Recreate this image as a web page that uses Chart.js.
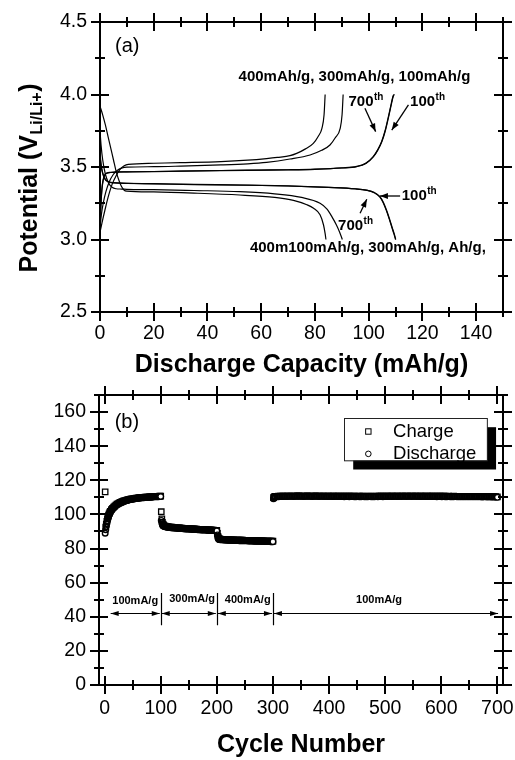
<!DOCTYPE html>
<html><head><meta charset="utf-8">
<script src="https://cdn.jsdelivr.net/npm/chart.js@4.4.1/dist/chart.umd.min.js"></script>
<style>
html,body{margin:0;padding:0;background:#fff;}
#wrap{position:relative;width:515px;height:760px;background:#fff;}
canvas{position:absolute;left:0;}
#ca{top:0}
#cb{top:380px}
</style></head><body>
<div id="wrap"><canvas id="ca" width="515" height="380"></canvas><canvas id="cb" width="515" height="380"></canvas></div>
<script>
// ================= Panel (a): voltage profiles =================
// charge curves (capacity mAh/g, potential V)
const capC400 = [0, 0.8, 1.8, 3, 4.5, 6, 7.5, 9, 10.5, 20, 30, 45, 55, 62, 66, 70.7, 73.2, 76.5, 79.4, 81.2, 82.6, 83.4, 83.8];
const potC400 = [3.05, 3.12, 3.2, 3.29, 3.38, 3.44, 3.485, 3.508, 3.518, 3.526, 3.53, 3.537, 3.547, 3.558, 3.566, 3.578, 3.594, 3.625, 3.663, 3.71, 3.767, 3.86, 4.0];
const capC300 = [0, 0.5, 1.2, 2.2, 3.5, 5, 6.5, 8, 10, 20, 30, 45, 55, 62, 70.7, 78.2, 82.5, 85.6, 87.5, 89.4, 90.1, 90.5];
const potC300 = [3.08, 3.17, 3.25, 3.33, 3.40, 3.45, 3.478, 3.492, 3.499, 3.502, 3.506, 3.514, 3.522, 3.532, 3.555, 3.583, 3.615, 3.652, 3.70, 3.767, 3.86, 4.0];
const capC100 = [0, 0.3, 0.7, 1.2, 1.8, 2.6, 4, 6, 10, 20, 30, 45, 60, 70, 80, 90, 95.6, 99, 101.8, 103.5, 104.9, 106.2, 107.3, 108.3, 109.2, 109.6];
const potC100 = [3.06, 3.22, 3.34, 3.41, 3.445, 3.458, 3.462, 3.465, 3.466, 3.468, 3.471, 3.475, 3.478, 3.48, 3.484, 3.493, 3.503, 3.525, 3.571, 3.62, 3.674, 3.75, 3.836, 3.92, 3.99, 4.0];
const capC700 = [0, 0.3, 0.7, 1.2, 1.8, 2.6, 4, 6, 10, 20, 30, 45, 60, 70, 80, 90, 95.5, 98.9, 101.7, 103.4, 104.8, 106.1, 107.2, 108.2, 109.1, 109.5];
const potC700 = [3.07, 3.23, 3.35, 3.415, 3.447, 3.459, 3.463, 3.466, 3.467, 3.469, 3.472, 3.476, 3.479, 3.481, 3.485, 3.494, 3.504, 3.526, 3.572, 3.62, 3.674, 3.75, 3.836, 3.92, 3.99, 4.0];
// discharge curves
const capD400 = [0, 1, 2, 3, 4, 5, 6, 7, 8, 9, 10, 20, 35, 52, 65, 72, 77, 79.5, 81.9, 83.2, 83.8, 84.1];
const potD400 = [3.92, 3.86, 3.79, 3.71, 3.63, 3.55, 3.47, 3.41, 3.365, 3.34, 3.334, 3.328, 3.32, 3.307, 3.29, 3.27, 3.24, 3.215, 3.17, 3.10, 3.04, 3.0];
const capD300 = [0, 0.4, 1, 2, 3.2, 4.5, 6, 8, 10, 20, 35, 52, 65, 75, 81.9, 84.5, 86.3, 88, 89.2, 90.2];
const potD300 = [3.75, 3.65, 3.55, 3.45, 3.39, 3.36, 3.35, 3.348, 3.346, 3.344, 3.338, 3.33, 3.315, 3.29, 3.25, 3.21, 3.158, 3.10, 3.05, 3.0];
const capD100 = [0, 0.4, 1, 1.8, 3, 5, 10, 20, 35, 52, 70, 85, 95, 99.3, 102, 104.2, 105.5, 106.7, 107.8, 108.8, 109.5, 110.1];
const potD100 = [3.60, 3.52, 3.46, 3.42, 3.40, 3.392, 3.388, 3.385, 3.38, 3.376, 3.37, 3.36, 3.35, 3.34, 3.325, 3.295, 3.255, 3.20, 3.14, 3.08, 3.04, 3.0];
const capD700 = [0, 0.4, 1, 1.8, 3, 5, 10, 20, 35, 52, 70, 85, 95, 99.3, 102, 104.1, 105.4, 106.6, 107.7, 108.7, 109.4, 110.0];
const potD700 = [3.58, 3.51, 3.455, 3.418, 3.398, 3.39, 3.387, 3.384, 3.379, 3.375, 3.369, 3.359, 3.349, 3.339, 3.323, 3.294, 3.254, 3.199, 3.139, 3.079, 3.039, 3.0];

const aXMajor = [0, 20, 40, 60, 80, 100, 120, 140];
const aXMinor = [10, 30, 50, 70, 90, 110, 130, 150];
const aYMajor = [2.5, 3.0, 3.5, 4.0, 4.5];
const aYMinor = [2.75, 3.25, 3.75, 4.25];

// ================= Panel (b): cycling =================
const seg1Cycles = [1,2,3,4,5,6,7,8,9,10,12,14,16,18,20,22,24,26,28,30,32,34,36,38,40,42,44,46,48,50,52,54,56,58,60,62,64,66,68,70,72,74,76,78,80,82,84,86,88,90,92,94,96,98,100];
const seg1Discharge = [89.0,91.0,93.0,94.8,96.3,97.6,98.7,99.6,100.4,101.1, 102.2,103.1,103.9,104.5,105.1,105.6,106.0,106.4,106.7,107.0, 107.3,107.6,107.8,108.0,108.2,108.4,108.6,108.7,108.9,109.0, 109.1,109.2,109.3,109.4,109.5,109.6,109.6,109.7,109.8,109.8, 109.9,109.9,110.0,110.0,110.1,110.1,110.2,110.2,110.3,110.3, 110.3,110.4,110.4,110.5,110.5];
const seg1Charge = [113.2,92.6,94.4,96.0,97.4,98.6,99.6,100.4,101.1,101.8, 102.8,103.6,104.3,104.9,105.5,106.0,106.4,106.8,107.1,107.4, 107.7,107.9,108.1,108.3,108.5,108.7,108.9,109.0,109.1,109.2, 109.3,109.4,109.5,109.6,109.7,109.8,109.8,109.9,110.0,110.0, 110.1,110.1,110.2,110.2,110.3,110.3,110.4,110.4,110.5,110.5, 110.5,110.6,110.6,110.7,110.7];

const seg2Cycles = [101,102,103,104,105,106,108,110,112,114,116,118,120,122,124,126,128,130,132,134,136,138,140,142,144,146,148,150,152,154,156,158,160,162,164,166,168,170,172,174,176,178,180,182,184,186,188,190,192,194,196,198,200];
const seg2Discharge = [96.5,95.0,94.0,93.5,93.2,93.0, 92.8,92.6,92.5,92.4,92.3,92.2,92.2,92.1,92.0,92.0, 91.9,91.9,91.8,91.8,91.7,91.7,91.6,91.6,91.5,91.5, 91.4,91.4,91.3,91.3,91.3,91.2,91.2,91.1,91.1,91.0, 91.0,91.0,90.9,90.9,90.8,90.8,90.8,90.7,90.7,90.6, 90.6,90.6,90.5,90.5,90.4,90.4,90.3];
const seg2Charge = [101.6,97.4,95.4,94.4,93.9,93.5, 93.1,92.9,92.8,92.7,92.6,92.5,92.5,92.4,92.3,92.3, 92.2,92.2,92.1,92.1,92.0,92.0,91.9,91.9,91.8,91.8, 91.7,91.7,91.6,91.6,91.6,91.5,91.5,91.4,91.4,91.3, 91.3,91.3,91.2,91.2,91.1,91.1,91.1,91.0,91.0,90.9, 90.9,90.9,90.8,90.8,90.7,90.7,90.6];

const seg3Cycles = [201,202,203,204,205,206,208,210,212,214,216,218,220,222,224,226,228,230,232,234,236,238,240,242,244,246,248,250,252,254,256,258,260,262,264,266,268,270,272,274,276,278,280,282,284,286,288,290,292,294,296,298,300];
const seg3Discharge = [88.0,86.6,85.9,85.5,85.3,85.2, 85.1,85.1,85.0,85.0,85.0,84.9,84.9,84.9,84.8,84.8, 84.8,84.8,84.7,84.7,84.7,84.7,84.6,84.6,84.6,84.6, 84.5,84.5,84.5,84.5,84.4,84.4,84.4,84.4,84.4,84.3, 84.3,84.3,84.3,84.3,84.2,84.2,84.2,84.2,84.2,84.1, 84.1,84.1,84.1,84.1,84.0,84.0,84.0];
const seg3Charge = [88.9,87.1,86.3,85.8,85.6,85.5, 85.4,85.4,85.3,85.3,85.3,85.2,85.2,85.2,85.1,85.1, 85.1,85.1,85.0,85.0,85.0,85.0,84.9,84.9,84.9,84.9, 84.8,84.8,84.8,84.8,84.7,84.7,84.7,84.7,84.7,84.6, 84.6,84.6,84.6,84.6,84.5,84.5,84.5,84.5,84.5,84.4, 84.4,84.4,84.4,84.4,84.3,84.3,84.3];

const seg4Cycles = [301,302,303,304,307,310,313,316,319,322,325,328,331,334,337,340,343,346,349,352,355,358,361,364,367,370,373,376,379,382,385,388,391,394,397,400,403,406,409,412,415,418,421,424,427,430,433,436,439,442,445,448,451,454,457,460,463,466,469,472,475,478,481,484,487,490,493,496,499,502,505,508,511,514,517,520,523,526,529,532,535,538,541,544,547,550,553,556,559,562,565,568,571,574,577,580,583,586,589,592,595,598,601,604,607,610,613,616,619,622,625,628,631,634,637,640,643,646,649,652,655,658,661,664,667,670,673,676,679,682,685,688,691,694,697,700];
const seg4Discharge = [109.2,109.8,110.1,
110.3,110.4,110.4,110.5,110.5,110.5,110.6,110.5,110.6,110.6,
110.6,110.5,110.6,110.6,110.7,110.6,110.6,110.5,110.6,110.6,
110.6,110.6,110.5,110.6,110.6,110.6,110.5,110.6,110.6,110.5,
110.6,110.5,110.5,110.6,110.5,110.5,110.6,110.5,110.5,110.5,
110.5,110.4,110.5,110.5,110.4,110.5,110.5,110.4,110.4,110.5,
110.4,110.4,110.5,110.4,110.4,110.4,110.5,110.4,110.4,110.4,
110.5,110.4,110.5,110.5,110.4,110.5,110.5,110.5,110.6,110.5,
110.5,110.6,110.5,110.5,110.6,110.5,110.6,110.6,110.5,110.6,
110.6,110.5,110.6,110.6,110.5,110.6,110.5,110.5,110.6,110.5,
110.5,110.5,110.6,110.5,110.5,110.5,110.4,110.5,110.5,110.4,
110.5,110.4,110.4,110.5,110.4,110.4,110.4,110.5,110.4,110.4,
110.4,110.3,110.4,110.4,110.3,110.4,110.3,110.3,110.4,110.3,
110.3,110.3,110.3,110.2,110.3,110.3,110.2,110.3,110.2,110.2,
110.2,110.2,110.0];
const seg4Charge = [109.8,110.2,110.4,
110.6,110.6,110.7,110.7,110.7,110.8,110.8,110.7,110.8,110.8,
110.8,110.8,110.8,110.9,110.9,110.8,110.8,110.8,110.8,110.9,
110.8,110.8,110.8,110.8,110.9,110.8,110.8,110.8,110.8,110.8,
110.8,110.8,110.7,110.8,110.8,110.7,110.8,110.7,110.7,110.8,
110.7,110.7,110.7,110.7,110.7,110.7,110.7,110.7,110.6,110.7,
110.7,110.6,110.7,110.7,110.6,110.6,110.7,110.7,110.6,110.6,
110.7,110.7,110.7,110.7,110.7,110.7,110.8,110.7,110.8,110.8,
110.8,110.8,110.8,110.8,110.8,110.8,110.8,110.8,110.8,110.8,
110.8,110.8,110.8,110.8,110.8,110.8,110.8,110.7,110.8,110.8,
110.7,110.7,110.8,110.7,110.7,110.7,110.7,110.7,110.7,110.7,
110.7,110.7,110.6,110.7,110.6,110.6,110.7,110.6,110.6,110.6,
110.6,110.6,110.6,110.6,110.5,110.6,110.5,110.5,110.6,110.5,
110.5,110.5,110.5,110.5,110.5,110.5,110.4,110.5,110.4,110.4,
110.4,110.4,110.3];

const bXMajor = [0, 100, 200, 300, 400, 500, 600, 700];
const bXMinor = [50, 150, 250, 350, 450, 550, 650];
const bYMajor = [0, 20, 40, 60, 80, 100, 120, 140, 160];
const bYMinor = [10, 30, 50, 70, 90, 110, 130, 150, 170];

const rateLabels = ['100mA/g', '300mA/g', '400mA/g', '100mA/g'];
const legendLabels = ['Charge', 'Discharge'];

// ================= helpers =================
const FAM = '"Liberation Sans", Arial, Helvetica, sans-serif';
Chart.defaults.font.family = FAM;
Chart.defaults.color = '#000';

const toXY = (xs, ys) => xs.map((x, i) => ({x: x, y: ys[i]}));
const cat = (...arrs) => [].concat(...arrs);

function drawFrame(chart, xMaj, xMin, yMaj, yMin) {
  const {ctx, chartArea: ca, scales: {x, y}} = chart;
  const MJ = 9, MN = 5;
  ctx.save();
  ctx.strokeStyle = '#000';
  ctx.lineWidth = 2;
  ctx.strokeRect(ca.left, ca.top, ca.right - ca.left, ca.bottom - ca.top);
  ctx.beginPath();
  const xt = (vals, L) => vals.forEach(v => {
    const p = Math.round(x.getPixelForValue(v));
    ctx.moveTo(p, ca.bottom - L); ctx.lineTo(p, ca.bottom + L);
    ctx.moveTo(p, ca.top - L); ctx.lineTo(p, ca.top + L);
  });
  const yt = (vals, L) => vals.forEach(v => {
    const p = Math.round(y.getPixelForValue(v));
    ctx.moveTo(ca.left - L, p); ctx.lineTo(ca.left + L, p);
    ctx.moveTo(ca.right - L, p); ctx.lineTo(ca.right + L, p);
  });
  xt(xMaj, MJ); xt(xMin, MN); yt(yMaj, MJ); yt(yMin, MN);
  ctx.stroke();
  ctx.restore();
}

function arrowHead(ctx, x, y, ang, hl, hw) {
  const c = Math.cos(ang), s = Math.sin(ang);
  ctx.beginPath();
  ctx.moveTo(x, y);
  ctx.lineTo(x - hl * c + hw * s, y - hl * s - hw * c);
  ctx.lineTo(x - hl * c - hw * s, y - hl * s + hw * c);
  ctx.closePath();
  ctx.fill();
}
function arrow(ctx, x1, y1, x2, y2, hl, hw, both) {
  const ang = Math.atan2(y2 - y1, x2 - x1);
  ctx.beginPath();
  ctx.moveTo(x1, y1); ctx.lineTo(x2, y2);
  ctx.stroke();
  arrowHead(ctx, x2, y2, ang, hl, hw);
  if (both) arrowHead(ctx, x1, y1, ang + Math.PI, hl, hw);
}
function supText(ctx, px, py, base, sup, size, supSize) {
  ctx.textAlign = 'left';
  ctx.textBaseline = 'alphabetic';
  ctx.font = 'bold ' + size + 'px ' + FAM;
  ctx.fillText(base, px, py);
  const w = ctx.measureText(base).width;
  ctx.font = 'bold ' + supSize + 'px ' + FAM;
  ctx.fillText(sup, px + w + 0.5, py - size * 0.42);
}
// rotated (vertical) axis title, centred on page y = cy, baseline at page x = bx
function verticalTitle(ctx, bx, cy, parts) {
  ctx.save();
  ctx.textAlign = 'left'; ctx.textBaseline = 'alphabetic'; ctx.fillStyle = '#000';
  let total = 0;
  parts.forEach(p => { ctx.font = 'bold ' + p.size + 'px ' + FAM; p.w = ctx.measureText(p.text).width; total += p.w + (p.gap || 0); });
  ctx.translate(bx, cy + total / 2);
  ctx.rotate(-Math.PI / 2);
  let pos = 0;
  parts.forEach(p => { ctx.font = 'bold ' + p.size + 'px ' + FAM; pos += (p.gap || 0); ctx.fillText(p.text, pos, p.dy || 0); pos += p.w; });
  ctx.restore();
}
const noPad = s => { s.paddingLeft = 0; s.paddingRight = 0; s.paddingTop = 0; s.paddingBottom = 0; };

// annotation placement (data coordinates)
const aNotes = {
  panel: {x: 5.6, y: 4.334},
  topLabel: {x: 94.7, y: 4.121},
  bottomLabel: {x: 99.7, y: 2.945},
  top700: {x: 92.5, y: 3.921},
  top100: {x: 115.4, y: 3.921},
  arrTop700: [98.6, 3.905, 102.6, 3.744],
  arrTop100: [114.8, 3.928, 108.6, 3.755],
  bot100: {x: 112.3, y: 3.272},
  arrBot100: [111.7, 3.30, 104.2, 3.30],
  bot700: {x: 88.6, y: 3.066},
  arrBot700: [96.8, 3.181, 99.3, 3.277]
};
const bNotes = {
  panel: {x: 17.9, y: 153.7},
  rateX: [54.5, 156, 255, 489],
  rateY: [49.3, 50.4, 49.9, 49.9],
  sepX: [100, 200, 300], sepY: [35, 54],
  arrows: [[9, 100], [100, 200], [200, 300], [300, 703]], arrowY: 42,
  legendBox: [427, 156.4, 681.6, 131.6],
  legendMarkX: 470, legendTextX: 514, legendRowY: [148.6, 135.5]
};

const pluginA = {
  id: 'decorA',
  afterDatasetsDraw(chart) {
    const {ctx, scales: {x, y}} = chart;
    const X = v => x.getPixelForValue(v), Y = v => y.getPixelForValue(v);
    drawFrame(chart, aXMajor, aXMinor, aYMajor, aYMinor);
    ctx.save();
    ctx.fillStyle = '#000'; ctx.strokeStyle = '#000';
    ctx.font = '20px ' + FAM; ctx.textAlign = 'left'; ctx.textBaseline = 'middle';
    ctx.fillText('(a)', X(aNotes.panel.x), Y(aNotes.panel.y));
    ctx.font = 'bold 15px ' + FAM; ctx.textAlign = 'center'; ctx.textBaseline = 'middle';
    ctx.fillText('400mAh/g, 300mAh/g, 100mAh/g', X(aNotes.topLabel.x), Y(aNotes.topLabel.y));
    ctx.fillText('400m100mAh/g, 300mAh/g, Ah/g,', X(aNotes.bottomLabel.x), Y(aNotes.bottomLabel.y));
    supText(ctx, X(aNotes.top700.x), Y(aNotes.top700.y), '700', 'th', 15, 10);
    supText(ctx, X(aNotes.top100.x), Y(aNotes.top100.y), '100', 'th', 15, 10);
    supText(ctx, X(aNotes.bot100.x), Y(aNotes.bot100.y), '100', 'th', 15, 10);
    supText(ctx, X(aNotes.bot700.x), Y(aNotes.bot700.y), '700', 'th', 15, 10);
    ctx.lineWidth = 1.3;
    [aNotes.arrTop700, aNotes.arrTop100, aNotes.arrBot100, aNotes.arrBot700].forEach(a =>
      arrow(ctx, X(a[0]), Y(a[1]), X(a[2]), Y(a[3]), 8, 3, false));
    ctx.restore();
    verticalTitle(ctx, 37, 178, [
      {text: 'Potential (V', size: 25},
      {text: 'Li/Li+', size: 16, dy: 5, gap: 0.5},
      {text: ')', size: 25, gap: 0.5}
    ]);
  }
};

const pluginB = {
  id: 'decorB',
  afterDatasetsDraw(chart) {
    const {ctx, scales: {x, y}} = chart;
    const X = v => x.getPixelForValue(v), Y = v => y.getPixelForValue(v);
    drawFrame(chart, bXMajor, bXMinor, bYMajor, bYMinor);
    ctx.save();
    ctx.fillStyle = '#000'; ctx.strokeStyle = '#000';
    ctx.font = '20px ' + FAM; ctx.textAlign = 'left'; ctx.textBaseline = 'middle';
    ctx.fillText('(b)', X(bNotes.panel.x), Y(bNotes.panel.y));
    ctx.font = 'bold 11px ' + FAM; ctx.textAlign = 'center'; ctx.textBaseline = 'middle';
    rateLabels.forEach((t, i) => ctx.fillText(t, X(bNotes.rateX[i]), Y(bNotes.rateY[i])));
    ctx.lineWidth = 1.2;
    ctx.beginPath();
    bNotes.sepX.forEach(v => { const p = Math.round(X(v)) + 0.5; ctx.moveTo(p, Y(bNotes.sepY[0])); ctx.lineTo(p, Y(bNotes.sepY[1])); });
    ctx.stroke();
    const ay = Math.round(Y(bNotes.arrowY)) + 0.5;
    bNotes.arrows.forEach(a => arrow(ctx, X(a[0]) + 1, ay, X(a[1]) - 1, ay, 8, 2.6, true));
    // legend with drop shadow
    const lb = bNotes.legendBox;
    const lx = X(lb[0]), ly = Y(lb[1]), lw = X(lb[2]) - X(lb[0]), lh = Y(lb[3]) - Y(lb[1]);
    ctx.fillStyle = '#000';
    ctx.fillRect(lx + 9, ly + 9, lw, lh);
    ctx.fillStyle = '#fff';
    ctx.fillRect(lx, ly, lw, lh);
    ctx.lineWidth = 1; ctx.strokeStyle = '#222';
    ctx.strokeRect(Math.round(lx) + 0.5, Math.round(ly) + 0.5, lw, lh);
    ctx.strokeStyle = '#000'; ctx.lineWidth = 1;
    const mx = X(bNotes.legendMarkX);
    const r1 = Y(bNotes.legendRowY[0]), r2 = Y(bNotes.legendRowY[1]);
    ctx.fillStyle = '#fff';
    ctx.fillRect(mx - 2.7, r1 - 2.7, 5.4, 5.4);
    ctx.strokeRect(mx - 2.7, r1 - 2.7, 5.4, 5.4);
    ctx.beginPath(); ctx.arc(mx, r2, 2.8, 0, Math.PI * 2); ctx.fill(); ctx.stroke();
    ctx.fillStyle = '#000';
    ctx.font = '18.5px ' + FAM; ctx.textAlign = 'left'; ctx.textBaseline = 'middle';
    ctx.fillText(legendLabels[0], X(bNotes.legendTextX), r1);
    ctx.fillText(legendLabels[1], X(bNotes.legendTextX), r2);
    ctx.restore();
    verticalTitle(ctx, 34, 549, [{text: 'Capacity (mAh/g)', size: 26}]);
  }
};

const lineStyle = {showLine: true, borderColor: '#000', borderWidth: 1.2, pointRadius: 0, cubicInterpolationMode: 'monotone', fill: false};
const tickFont = {size: 19.5};

new Chart(document.getElementById('ca'), {
  type: 'scatter',
  data: {datasets: [
    Object.assign({label: 'Charge 400mA/g', data: toXY(capC400, potC400)}, lineStyle),
    Object.assign({label: 'Charge 300mA/g', data: toXY(capC300, potC300)}, lineStyle),
    Object.assign({label: 'Charge 100mA/g 100th', data: toXY(capC100, potC100)}, lineStyle),
    Object.assign({label: 'Charge 100mA/g 700th', data: toXY(capC700, potC700)}, lineStyle),
    Object.assign({label: 'Discharge 400mA/g', data: toXY(capD400, potD400)}, lineStyle),
    Object.assign({label: 'Discharge 300mA/g', data: toXY(capD300, potD300)}, lineStyle),
    Object.assign({label: 'Discharge 100mA/g 100th', data: toXY(capD100, potD100)}, lineStyle),
    Object.assign({label: 'Discharge 100mA/g 700th', data: toXY(capD700, potD700)}, lineStyle)
  ]},
  options: {
    responsive: false, animation: false, devicePixelRatio: 1, events: [],
    layout: {padding: {top: 22, right: 12, left: 0, bottom: 0}},
    plugins: {legend: {display: false}, tooltip: {enabled: false}},
    scales: {
      x: {type: 'linear', min: 0, max: 150,
        afterBuildTicks: s => { s.ticks = aXMajor.map(v => ({value: v})); },
        afterFit: s => { s.height = 68; noPad(s); },
        grid: {display: false, drawTicks: false}, border: {display: false},
        ticks: {autoSkip: false, maxRotation: 0, padding: 10, font: tickFont, color: '#000', callback: v => String(v)},
        title: {display: true, text: 'Discharge Capacity (mAh/g)', color: '#000', font: {size: 25, weight: 'bold'}, padding: {top: 0, bottom: 0}}
      },
      y: {type: 'linear', min: 2.5, max: 4.5,
        afterBuildTicks: s => { s.ticks = aYMajor.map(v => ({value: v})); },
        afterFit: s => { s.width = 100; noPad(s); },
        grid: {display: false, drawTicks: false}, border: {display: false},
        ticks: {autoSkip: false, padding: 13, font: tickFont, color: '#000', callback: v => Number(v).toFixed(1)},
        title: {display: false}
      }
    }
  },
  plugins: [pluginA]
});

const allCycles = cat(seg1Cycles, seg2Cycles, seg3Cycles, seg4Cycles);
const dischargePts = toXY(allCycles, cat(seg1Discharge, seg2Discharge, seg3Discharge, seg4Discharge));
const chargePts = toXY(allCycles, cat(seg1Charge, seg2Charge, seg3Charge, seg4Charge));
// last point of each rate segment is drawn with a white face (it sits on top of the dense band)
const segEnds = [];
[seg1Cycles, seg2Cycles, seg3Cycles, seg4Cycles].reduce((n, s) => { segEnds.push(n + s.length - 1); return n + s.length; }, 0);
const faceFill = c => segEnds.includes(c.dataIndex) ? '#fff' : 'rgba(255,255,255,0)';

new Chart(document.getElementById('cb'), {
  type: 'scatter',
  data: {datasets: [
    {label: legendLabels[1], data: dischargePts, showLine: false, pointStyle: 'circle', pointRadius: 2.8, pointBorderWidth: 1.4, pointBorderColor: '#000', pointBackgroundColor: faceFill},
    {label: legendLabels[0], data: chargePts, showLine: false, pointStyle: 'rect', pointRadius: 3.8, pointBorderWidth: 1.3, pointBorderColor: '#000', pointBackgroundColor: 'rgba(255,255,255,0)'}
  ]},
  options: {
    responsive: false, animation: false, devicePixelRatio: 1, events: [],
    layout: {padding: {top: 15, right: 12, left: 0, bottom: 0}},
    plugins: {legend: {display: false}, tooltip: {enabled: false}},
    scales: {
      x: {type: 'linear', min: -10, max: 710,
        afterBuildTicks: s => { s.ticks = bXMajor.map(v => ({value: v})); },
        afterFit: s => { s.height = 75; noPad(s); },
        grid: {display: false, drawTicks: false}, border: {display: false},
        ticks: {autoSkip: false, maxRotation: 0, padding: 12, font: tickFont, color: '#000', callback: v => String(v)},
        title: {display: true, text: 'Cycle Number', color: '#000', font: {size: 25, weight: 'bold'}, padding: {top: 0, bottom: 0}}
      },
      y: {type: 'linear', min: 0, max: 170,
        afterBuildTicks: s => { s.ticks = bYMajor.map(v => ({value: v})); },
        afterFit: s => { s.width = 99; noPad(s); },
        grid: {display: false, drawTicks: false}, border: {display: false},
        ticks: {autoSkip: false, padding: 13, font: tickFont, color: '#000', callback: v => String(v)},
        title: {display: false, text: 'Capacity (mAh/g)'}
      }
    }
  },
  plugins: [pluginB]
});
</script>
</body></html>
